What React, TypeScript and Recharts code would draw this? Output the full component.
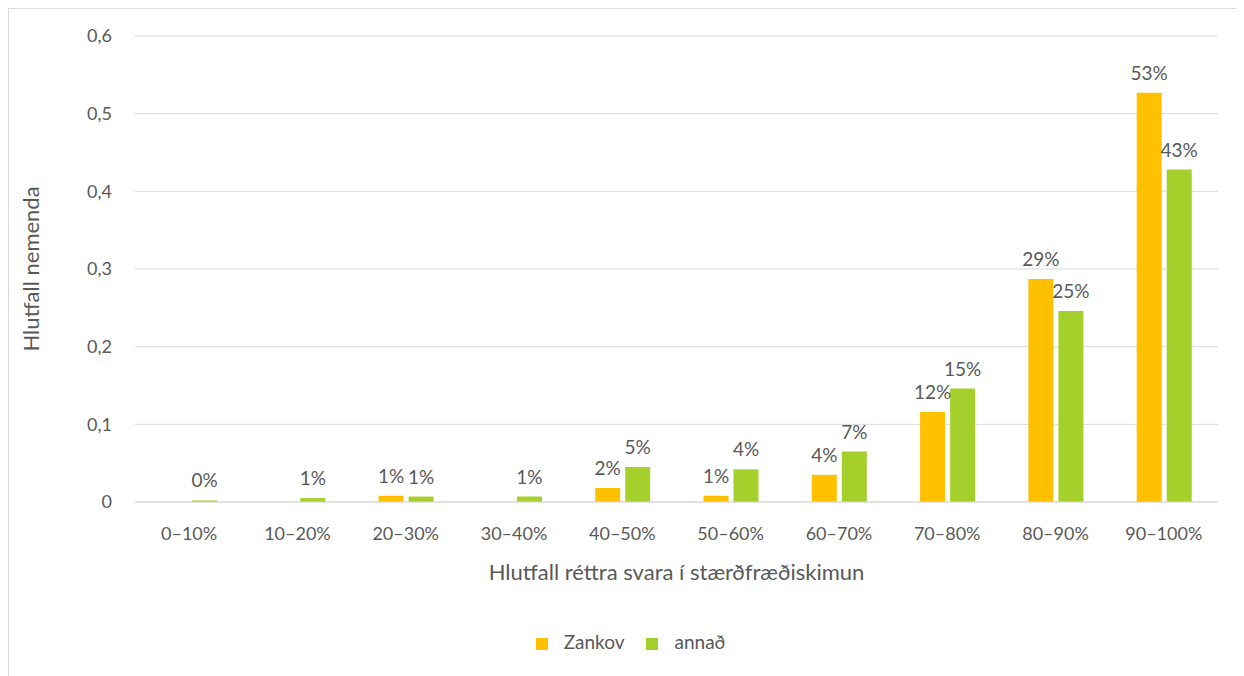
import {
  Bar,
  BarChart,
  CartesianGrid,
  Label,
  LabelList,
  Legend,
  XAxis,
  YAxis,
} from "recharts";

const categories = [
  "0–10%",
  "10–20%",
  "20–30%",
  "30–40%",
  "40–50%",
  "50–60%",
  "60–70%",
  "70–80%",
  "80–90%",
  "90–100%",
];

const zankov = [0, 0, 0.008, 0, 0.018, 0.008, 0.035, 0.116, 0.287, 0.527];
const annad = [0.002, 0.005, 0.007, 0.007, 0.045, 0.042, 0.065, 0.146, 0.246, 0.428];

const yTicks = [0, 0.1, 0.2, 0.3, 0.4, 0.5, 0.6];

const data = categories.map((name, i) => ({
  name,
  Zankov: zankov[i],
  annað: annad[i],
}));

const textColor = "#595959";
const font = "Lato, 'Open Sans', sans-serif";

const pct = (v: any) => (v === 0 ? "" : `${Math.round(Number(v) * 100)}%`);
const yFmt = (v: number) => (v === 0 ? "0" : v.toFixed(1).replace(".", ","));

export default function App() {
  return (
    <div
      style={{
        width: 1235,
        height: 667,
        borderLeft: "1px solid #d9d9d9",
        borderTop: "1px solid #d9d9d9",
        fontFamily: font,
      }}
    >
      <BarChart
        width={1235}
        height={667}
        data={data}
        margin={{ top: 27, right: 26, bottom: 61, left: 18 }}
        barSize={25}
        barGap={5}
      >
        <CartesianGrid vertical={false} stroke="#d9d9d9" strokeWidth={1} />
        <XAxis
          dataKey="name"
          height={90}
          tickLine={false}
          axisLine={{ stroke: "#d9d9d9" }}
          tick={{ fill: textColor, fontSize: 18 }}
          tickMargin={19}
        >
          <Label
            value="Hlutfall réttra svara í stærðfræðiskimun"
            position="insideBottom"
            offset={12}
            style={{ fill: textColor, fontSize: 22 }}
          />
        </XAxis>
        <YAxis
          width={108}
          domain={[0, 0.6]}
          ticks={yTicks}
          tickFormatter={yFmt}
          tickLine={false}
          axisLine={false}
          tick={{ fill: textColor, fontSize: 18 }}
          tickMargin={17}
        >
          <Label
            value="Hlutfall nemenda"
            angle={-90}
            position="insideLeft"
            offset={4}
            style={{ fill: textColor, fontSize: 22, textAnchor: "middle" }}
          />
        </YAxis>
        <Legend
          iconType="square"
          iconSize={12}
          wrapperStyle={{ bottom: 23, fontSize: 19, color: textColor, paddingLeft: 19 }}
          formatter={(value) => (
            <span style={{ color: textColor, marginLeft: 12, marginRight: 12 }}>{value}</span>
          )}
        />
        <Bar dataKey="Zankov" fill="#FFC000" isAnimationActive={false}>
          <LabelList
            dataKey="Zankov"
            position="top"
            offset={13}
            formatter={pct}
            style={{ fill: textColor, fontSize: 19 }}
          />
        </Bar>
        <Bar dataKey="annað" fill="#A5CF2B" isAnimationActive={false}>
          <LabelList
            dataKey="annað"
            position="top"
            offset={13}
            formatter={pct}
            style={{ fill: textColor, fontSize: 19 }}
          />
        </Bar>
      </BarChart>
    </div>
  );
}
